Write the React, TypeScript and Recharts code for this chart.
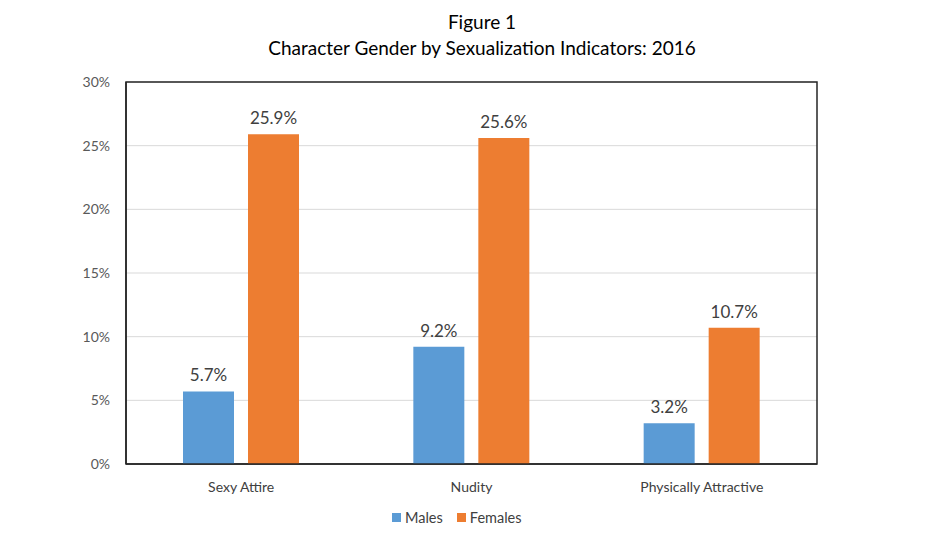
import { BarChart, Bar, XAxis, YAxis, CartesianGrid, Legend, LabelList, ReferenceArea } from "recharts";

const categories = ["Sexy Attire", "Nudity", "Physically Attractive"];
const males = [5.7, 9.2, 3.2];
const females = [25.9, 25.6, 10.7];
const yTicks = [0, 5, 10, 15, 20, 25, 30];

const data = categories.map((category, i) => ({ category, males: males[i], females: females[i] }));

const FONT = "Lato, 'Open Sans', sans-serif";
const BLUE = "#5B9BD5";
const ORANGE = "#ED7D31";

function LegendBox() {
  const items = [
    { label: "Males", color: BLUE },
    { label: "Females", color: ORANGE },
  ];
  return (
    <div style={{ display: "flex", alignItems: "center", gap: 14, fontFamily: FONT, fontSize: 14.5, color: "#404040" }}>
      {items.map((it) => (
        <div key={it.label} style={{ display: "flex", alignItems: "center", gap: 4 }}>
          <span style={{ width: 9, height: 9, background: it.color, display: "inline-block" }} />
          <span>{it.label}</span>
        </div>
      ))}
    </div>
  );
}

export default function App() {
  return (
    <div style={{ position: "absolute", left: 0, top: 0, width: 939, height: 542, background: "#fff" }}>
      <div
        style={{
          position: "absolute", top: 9, left: 0, width: 964, textAlign: "center",
          fontFamily: FONT, fontSize: 19, lineHeight: "26px", color: "#000",
        }}
      >
        <div>Figure 1</div>
        <div>Character Gender by Sexualization Indicators: 2016</div>
      </div>
      <BarChart
        width={939}
        height={542}
        data={data}
        margin={{ top: 82, right: 122, left: 66, bottom: 28 }}
        barGap={14}
        barSize={51}
      >
        <CartesianGrid vertical={false} stroke="#d9d9d9" />
        <XAxis
          dataKey="category"
          tickLine={false}
          axisLine={{ stroke: "#262626", strokeWidth: 1.5 }}
          height={30}
          tickMargin={12}
          tick={{ fill: "#404040", fontSize: 14, fontFamily: FONT }}
        />
        <YAxis
          domain={[0, 30]}
          ticks={yTicks}
          width={60}
          tickLine={false}
          axisLine={{ stroke: "#262626", strokeWidth: 1.5 }}
          tickMargin={10}
          tickFormatter={(v) => `${v}%`}
          tick={{ fill: "#595959", fontSize: 14, fontFamily: FONT }}
        />
        <ReferenceArea y1={0} y2={30} fill="none" stroke="#262626" strokeWidth={1.5} ifOverflow="visible" />
        <Legend
          content={() => <LegendBox />}
          wrapperStyle={{ top: 509, left: 392, width: 160, height: 20 }}
        />
        <Bar dataKey="males" name="Males" fill={BLUE} isAnimationActive={false}>
          <LabelList dataKey="males" position="top" offset={10} formatter={(v: number) => `${v.toFixed(1)}%`}
            style={{ fill: "#404040", fontSize: 17, fontFamily: FONT }} />
        </Bar>
        <Bar dataKey="females" name="Females" fill={ORANGE} isAnimationActive={false}>
          <LabelList dataKey="females" position="top" offset={10} formatter={(v: number) => `${v.toFixed(1)}%`}
            style={{ fill: "#404040", fontSize: 17, fontFamily: FONT }} />
        </Bar>
      </BarChart>
    </div>
  );
}
